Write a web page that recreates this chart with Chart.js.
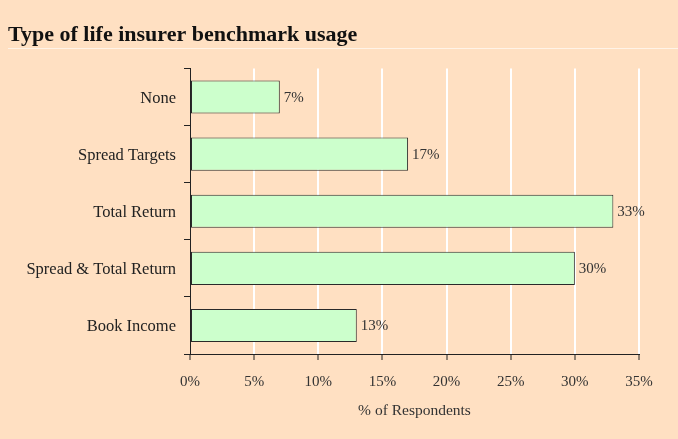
<!DOCTYPE html>
<html>
<head>
<meta charset="utf-8">
<script src="https://cdn.jsdelivr.net/npm/chart.js@4.4.1/dist/chart.umd.min.js"></script>
<style>
  html, body { margin: 0; padding: 0; background: #ffe0c2; }
  #wrap { width: 678px; height: 439px; }
</style>
</head>
<body>
<div id="wrap"><canvas id="chart" width="678" height="439"></canvas></div>
<script>
const categories = ['None', 'Spread Targets', 'Total Return', 'Spread & Total Return', 'Book Income'];
const respondents = [7, 17, 33, 30, 13];
const xTicks = [0, 5, 10, 15, 20, 25, 30, 35];

const SERIF = '"Liberation Serif", "Times New Roman", serif';

// value labels at the end of each bar
const barLabels = {
  id: 'barLabels',
  afterDatasetsDraw(chart) {
    const ctx = chart.ctx;
    const meta = chart.getDatasetMeta(0);
    ctx.save();
    ctx.font = '15px ' + SERIF;
    ctx.fillStyle = '#333';
    ctx.textAlign = 'left';
    ctx.textBaseline = 'middle';
    meta.data.forEach((bar, i) => {
      ctx.fillText(respondents[i] + '%', bar.x + 4, bar.y + 1);
    });
    ctx.restore();
  }
};

// faint rule under the title
const titleRule = {
  id: 'titleRule',
  afterDraw(chart) {
    const ctx = chart.ctx;
    ctx.save();
    ctx.strokeStyle = 'rgba(255,255,255,0.6)';
    ctx.lineWidth = 1;
    ctx.beginPath();
    ctx.moveTo(8, 48.5);
    ctx.lineTo(chart.width, 48.5);
    ctx.stroke();
    ctx.restore();
  }
};

new Chart(document.getElementById('chart'), {
  type: 'bar',
  data: {
    labels: categories,
    datasets: [{
      data: respondents,
      backgroundColor: '#ccffcc',
      borderColor: '#2a2a2a',
      borderWidth: 1,
      borderSkipped: false,
      categoryPercentage: 1,
      barPercentage: 0.58
    }]
  },
  options: {
    indexAxis: 'y',
    responsive: false,
    animation: false,
    layout: { padding: { left: 8, right: 39, top: 0, bottom: 0 } },
    plugins: {
      legend: { display: false },
      tooltip: { enabled: false },
      title: {
        display: true,
        text: 'Type of life insurer benchmark usage',
        align: 'start',
        color: '#111',
        font: { family: SERIF, size: 22, weight: 'bold' },
        padding: { top: 22, bottom: 20 }
      }
    },
    scales: {
      x: {
        min: 0,
        max: 35,
        afterBuildTicks(axis) { axis.ticks = xTicks.map(v => ({ value: v })); },
        afterFit(axis) { axis.height = 85; },
        grid: {
          color: c => c.index === 0 ? 'rgba(0,0,0,0)' : '#ffffff',
          lineWidth: 2,
          tickColor: '#222',
          tickLength: 6,
          tickWidth: 1
        },
        border: { color: '#222', width: 1 },
        ticks: {
          color: '#333',
          font: { family: SERIF, size: 15 },
          padding: 13,
          callback: v => v + '%'
        },
        title: {
          display: true,
          text: '% of Respondents',
          color: '#333',
          font: { family: SERIF, size: 15.5 },
          padding: { top: 0, bottom: 19 }
        }
      },
      y: {
        afterFit(axis) { axis.width = 182; },
        grid: {
          drawOnChartArea: false,
          tickColor: '#222',
          tickLength: 6,
          offset: true
        },
        border: { color: '#222', width: 1 },
        ticks: {
          color: '#222',
          font: { family: SERIF, size: 16.5 },
          padding: 8,
          labelOffset: 1.5
        }
      }
    }
  },
  plugins: [barLabels, titleRule]
});
</script>
</body>
</html>
